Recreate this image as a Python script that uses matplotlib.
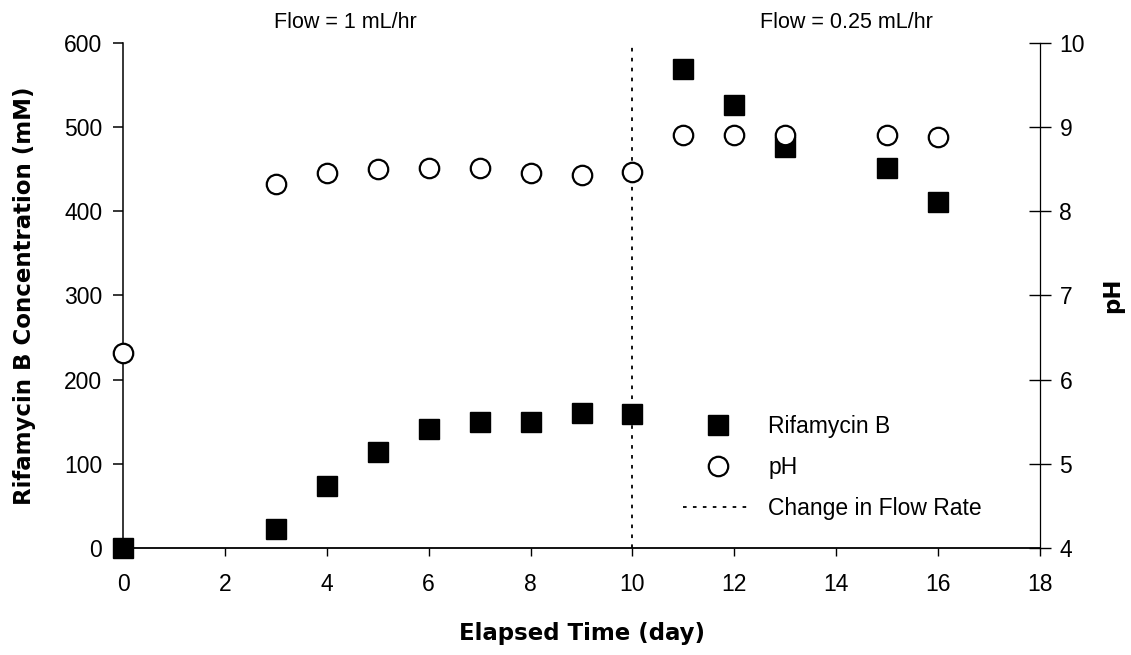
import matplotlib
matplotlib.use("Agg")
import matplotlib.pyplot as plt
from matplotlib.lines import Line2D

plt.rcParams["font.family"] = ["Liberation Sans", "DejaVu Sans"]

# Elapsed time (day)
days_rif = [0, 3, 4, 5, 6, 7, 8, 9, 10, 11, 12, 13, 15, 16]
rifamycin_mM = [0, 23, 74, 114, 141, 150, 150, 160, 159, 569, 526, 476, 451, 411]

days_ph = [0, 3, 4, 5, 6, 7, 8, 9, 10, 11, 12, 13, 15, 16]
ph_values = [6.32, 8.32, 8.45, 8.50, 8.51, 8.51, 8.45, 8.43, 8.47, 8.91, 8.91, 8.91, 8.91, 8.88]

flow_change_day = 10
x_ticks = list(range(0, 19, 2))
left_ticks = [0, 100, 200, 300, 400, 500, 600]
right_ticks = [4, 5, 6, 7, 8, 9, 10]

fig = plt.figure(figsize=(11.31, 6.55), dpi=100)
ax = fig.add_axes([0.1088, 0.1634, 0.8107, 0.771])
ax2 = ax.twinx()

ax.set_xlim(0, 18)
ax.set_ylim(0, 600)
ax2.set_ylim(4, 10)
ax.set_xticks(x_ticks)
ax.set_yticks(left_ticks)
ax2.set_yticks(right_ticks)

# Data points
ax.plot(days_rif, rifamycin_mM, linestyle="none", marker="s", markersize=14.5,
        color="black", clip_on=False, zorder=5)
ax2.plot(days_ph, ph_values, linestyle="none", marker="o", markersize=14,
         markerfacecolor="white", markeredgecolor="black", markeredgewidth=1.6,
         clip_on=False, zorder=4)

# Flow rate change marker
ax.axvline(flow_change_day, color="black", linestyle=(0, (2, 3.5)), linewidth=1.3)

# Spines and ticks
for a in (ax, ax2):
    a.spines["top"].set_visible(False)
ax.spines["right"].set_visible(False)
ax2.spines["left"].set_visible(False)
ax2.spines["bottom"].set_visible(False)
ax.spines["left"].set_linewidth(1.1)
ax.spines["bottom"].set_linewidth(1.3)
ax2.spines["right"].set_linewidth(0.9)

ax.tick_params(axis="y", direction="out", length=7, width=1.1, pad=8, labelsize=16.5)
ax.tick_params(axis="x", direction="out", length=6, width=1.0, pad=12, labelsize=16.5)
ax2.tick_params(axis="y", direction="inout", length=16, width=1.0, pad=6, labelsize=16.5)

label_font = {"family": ["DejaVu Sans"], "size": 16.5, "weight": "bold"}
ax.set_xlabel("Elapsed Time (day)", fontdict=label_font, labelpad=19)
ax.set_ylabel("Rifamycin B Concentration (mM)", fontdict=label_font, labelpad=20)
ax2.set_ylabel("pH", fontdict=label_font, labelpad=12, rotation=90)

# Flow-rate annotations above the plot
fig.text(345 / 1131, 1 - 22 / 655, "Flow = 1 mL/hr", fontsize=15.5, ha="center", va="center")
fig.text(846 / 1131, 1 - 22 / 655, "Flow = 0.25 mL/hr", fontsize=15.5, ha="center", va="center")

# Legend
handles = [
    Line2D([], [], linestyle="none", marker="s", markersize=14.5, color="black"),
    Line2D([], [], linestyle="none", marker="o", markersize=14, markerfacecolor="white",
           markeredgecolor="black", markeredgewidth=1.6),
    Line2D([], [], color="black", linestyle=(0, (2, 3.5)), linewidth=1.3),
]
labels = ["Rifamycin B", "pH", "Change in Flow Rate"]
leg = ax.legend(handles, labels, loc="upper left", bbox_to_anchor=(0.611, 0.264),
                frameon=False, fontsize=16.5, handlelength=3.0, handletextpad=0.7,
                labelspacing=0.8, borderpad=0, borderaxespad=0)

fig.savefig("out.png", dpi=100, facecolor="white")
